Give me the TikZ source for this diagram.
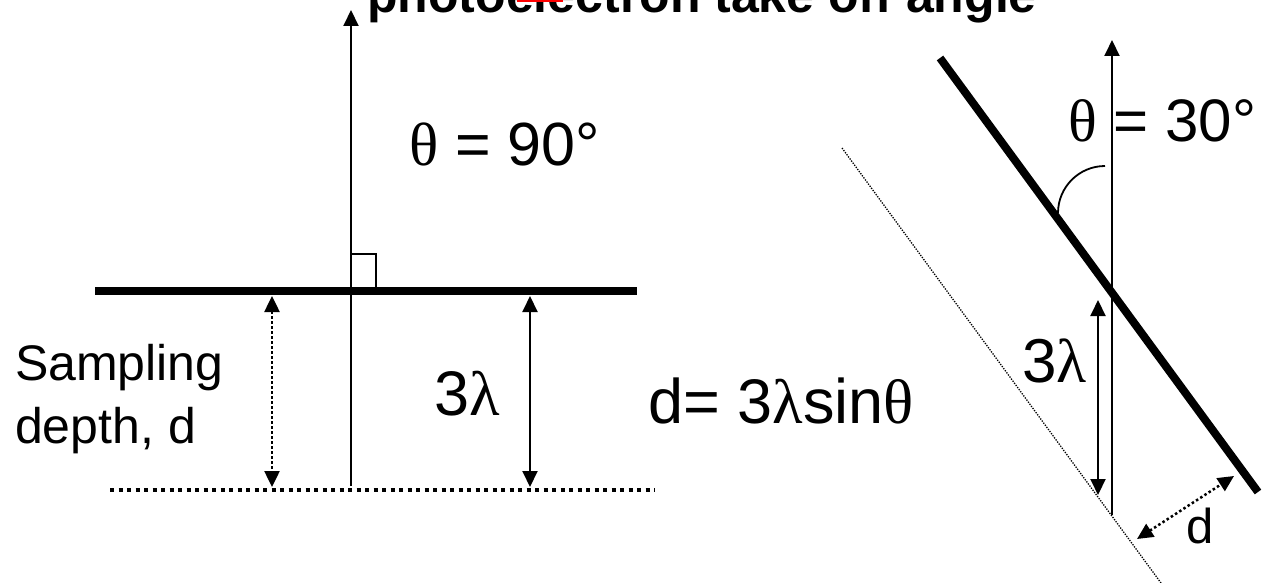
\documentclass[tikz,border=0pt]{standalone}
\usepackage{fontspec}
\setmainfont{Liberation Sans}
\newfontfamily\grk{Liberation Serif}
\usetikzlibrary{arrows.meta}
\begin{document}
\begin{tikzpicture}[x=1pt,y=-1pt,
  lbl/.style={inner sep=0pt, anchor=base west, font=\fontsize{63}{72}\selectfont},
  axisline/.style={line width=2pt},
  surface/.style={line width=7.5pt},
  tipend/.style={-{Triangle[length=16pt,width=15pt]}},
  bothends/.style={{Triangle[length=16pt,width=15pt]}-{Triangle[length=16pt,width=15pt]}},
  bigdots/.style={line width=4pt, dash pattern=on 4pt off 4.5pt},
  smalldots/.style={line width=2.5pt, dash pattern=on 2.5pt off 2.5pt},
  finedots/.style={line width=1.3pt, dash pattern=on 1.3pt off 1.3pt},
]
\useasboundingbox (0,0) rectangle (1266,583);
\clip (0,0) rectangle (1266,583);

% title
\node[inner sep=0pt, anchor=base west, font=\bfseries\fontsize{50}{60}\selectfont] (title) at (367,12.5) {photoelectron take off angle};
\coordinate (r1) at (517,0.8); \coordinate (r2) at (563,0.8);
\draw[red, line width=1.6pt] (r1) -- (r2);

% ---------- left diagram ----------
\coordinate (lvb) at (351,486); \coordinate (lvt) at (351,10);
\draw[axisline, tipend] (lvb) -- (lvt);
\coordinate (ls1) at (95,291); \coordinate (ls2) at (637,291);
\draw[surface] (ls1) -- (ls2);
\coordinate (sq1) at (351,254); \coordinate (sq2) at (376,288);
\draw[line width=1.8pt] (sq1) -- (sq2 |- sq1) -- (sq2);
\coordinate (ld1) at (110,490); \coordinate (ld2) at (655,490);
\draw[bigdots] (ld1) -- (ld2);
\coordinate (da1) at (272,296); \coordinate (da2) at (272,487);
\draw[smalldots, bothends] (da1) -- (da2);
\coordinate (sa1) at (530,296); \coordinate (sa2) at (530,487);
\draw[axisline, bothends] (sa1) -- (sa2);

\node[lbl, font=\fontsize{61}{70}\selectfont] (t90) at (409,165) {{\grk θ} = 90°};
\node[inner sep=0pt, anchor=base west, font=\fontsize{50}{58}\selectfont] (samp) at (15,380) {Sampling};
\node[inner sep=0pt, anchor=base west, font=\fontsize{50}{58}\selectfont] (dep) at (15,443) {depth, d};
\node[lbl] (l3) at (434,415) {3{\grk λ}};
\node[lbl] (deq) at (648,423) {d= 3{\grk λ}sin{\grk θ}};

% ---------- right diagram ----------
\coordinate (rs1) at (940,58); \coordinate (rs2) at (1258,492);
\draw[surface, line width=8pt] (rs1) -- (rs2);
\coordinate (rvb) at (1112,515); \coordinate (rvt) at (1112,40);
\draw[axisline, tipend] (rvb) -- (rvt);
\coordinate (arcs) at (1058,213);
\draw[line width=1.8pt] (arcs) arc[start angle=180, end angle=270, radius=47];
\coordinate (rd1) at (842,148); \coordinate (rd2) at (1161,583);
\draw[finedots] (rd1) -- (rd2);
\coordinate (ra1) at (1098,300); \coordinate (ra2) at (1098,495);
\draw[axisline, bothends] (ra1) -- (ra2);
\coordinate (dd1) at (1137,539); \coordinate (dd2) at (1234,476);
\draw[smalldots, bothends] (dd1) -- (dd2);

\node[lbl, font=\fontsize{60}{70}\selectfont] (t30) at (1068,142) {{\grk θ} = 30°};
\node[lbl, font=\fontsize{62}{70}\selectfont] (r3) at (1022,382) {3{\grk λ}};
\node[lbl, font=\fontsize{49}{56}\selectfont] (rdl) at (1186,543) {d};
\end{tikzpicture}
\end{document}
